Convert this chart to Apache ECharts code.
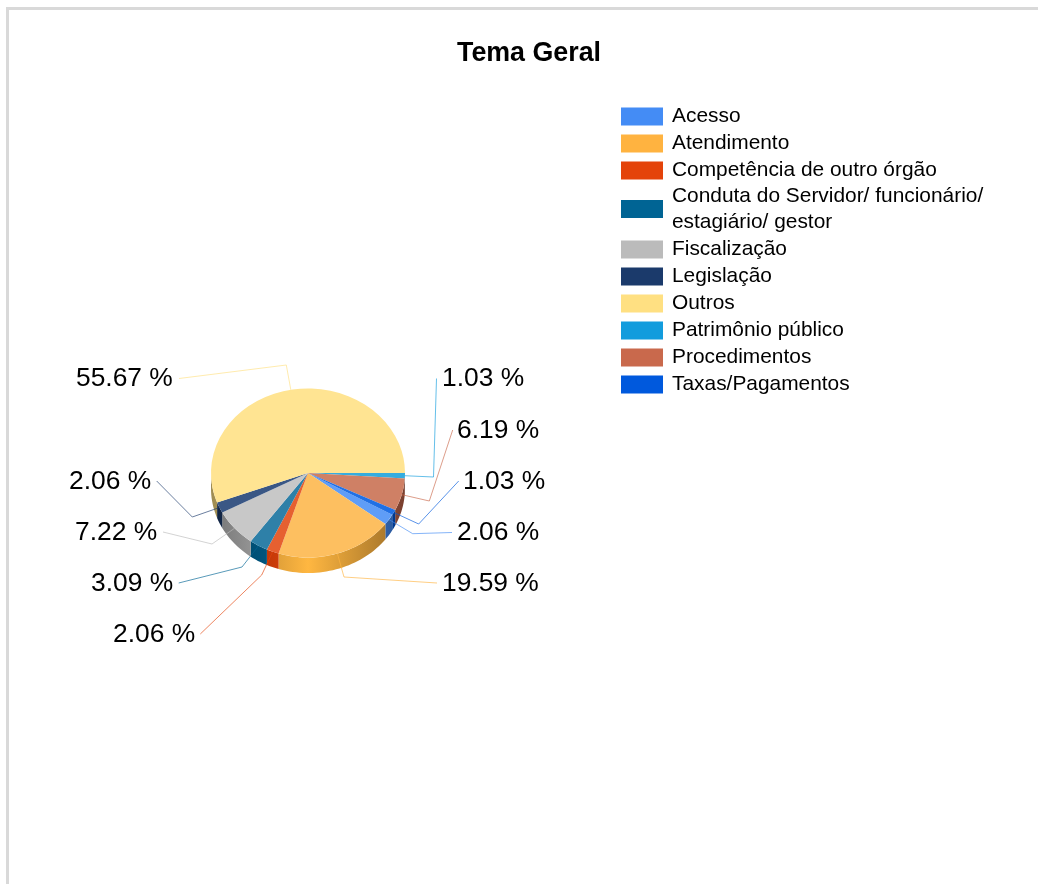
<!DOCTYPE html>
<html><head><meta charset="utf-8">
<style>html,body{margin:0;padding:0;background:#fff}#c{width:1038px;height:884px}</style>
<script src="https://cdn.jsdelivr.net/npm/echarts@6/dist/echarts.min.js"></script>
</head><body><div id="c"></div>
<script>
const categories = ["Acesso","Atendimento","Competência de outro órgão","Conduta do Servidor/ funcionário/ estagiário/ gestor","Fiscalização","Legislação","Outros","Patrimônio público","Procedimentos","Taxas/Pagamentos"];
const values = [2.06,19.59,2.06,3.09,7.22,2.06,55.67,1.03,6.19,1.03];
const legendColors = ["#448CF5","#FFB340","#E4430A","#006494","#BBBBBB","#1B3A6B","#FFE082","#129CDD","#C9694C","#0059DD"];
const faceColors = ["#5F9DF7","#FDBF60","#E66030","#2E80A8","#C8C8C8","#3A5785","#FFE492","#35ACDF","#CF8065","#2070E5"];
// annotation layout, pixels: [label x, label y, elbow x, elbow y, line end x, line end y]
const labelLayout = [
  [457,533,412.7,533.7,452,532.5],
  [442,584,344,577,437,583],
  [113,635,261.7,575,200.3,634],
  [91,584,242,567,178.7,583],
  [75,533,212,544,163,532],
  [69,482,192.3,517,156.7,481],
  [76,379,286.3,365,179,378.5],
  [442,379,433.5,477,436.5,378.5],
  [457,431,429.3,501,452.7,430],
  [463,482,418.7,524,458.7,481]
];
const firstSliceStartDeg = 29.7;
const pie = {cx:308, cy:473, rx:97, ry:84.5, depth:15.5};

function shade(hex, f){
  const n = parseInt(hex.slice(1),16);
  const c = [n>>16,(n>>8)&255,n&255].map(v=>Math.round(Math.min(255,v*f)));
  return 'rgb('+c.join(',')+')';
}
function hexA(hex,a){
  const n = parseInt(hex.slice(1),16);
  return 'rgba('+[n>>16,(n>>8)&255,n&255,a].join(',')+')';
}
const rad = d=>d*Math.PI/180;
const onEdge = d=>[pie.cx+pie.rx*Math.cos(rad(d)), pie.cy+pie.ry*Math.sin(rad(d))];

function wallPoly(a,b){
  const pts=[];
  for(let d=a;d<b;d+=2) pts.push(onEdge(d));
  pts.push(onEdge(b));
  const lower=pts.map(p=>[p[0],p[1]+pie.depth]).reverse();
  return pts.concat(lower);
}

let total = values.reduce((s,v)=>s+v,0);
let acc = 0;
const series = categories.map((name,i)=>{
  const startDeg = firstSliceStartDeg + acc/total*360;
  acc += values[i];
  const endDeg = firstSliceStartDeg + acc/total*360;
  const midDeg = (startDeg+endDeg)/2;
  return {
    name, type:'custom', coordinateSystem:'none', silent:true, clip:false,
    itemStyle:{color:legendColors[i]},
    data:[[values[i]]],
    renderItem:(params,api)=>{
      const children=[];
      const wallFill={type:'linear',x:pie.cx-pie.rx,y:0,x2:pie.cx+pie.rx,y2:0,global:true,colorStops:[
        {offset:0,color:shade(legendColors[i],0.62)},
        {offset:0.5,color:shade(legendColors[i],1.02)},
        {offset:1,color:shade(legendColors[i],0.6)}]};
      [[0,180],[360,540]].forEach(r=>{
        const a=Math.max(startDeg,r[0]), b=Math.min(endDeg,r[1]);
        if(b>a) children.push({type:'polygon',shape:{points:wallPoly(a,b)},style:{fill:wallFill}});
      });
      children.push({type:'sector',
        shape:{cx:pie.cx,cy:pie.cy,r0:0,r:pie.rx,startAngle:rad(startDeg),endAngle:rad(endDeg),clockwise:true},
        originX:pie.cx,originY:pie.cy,scaleY:pie.ry/pie.rx,
        style:{fill:faceColors[i]}});
      const L=labelLayout[i];
      children.push({type:'polyline',z2:5,shape:{points:[onEdge(midDeg),[L[2],L[3]],[L[4],L[5]]]},
        style:{fill:null,stroke:hexA(legendColors[i],0.65),lineWidth:1}});
      children.push({type:'text',z2:6,style:{text:api.value(0).toFixed(2)+' %',x:L[0],y:L[1],
        fill:'#000',font:'26.4px "Liberation Sans"',align:'left',verticalAlign:'middle'}});
      return {type:'group',children};
    }
  };
});

const legendBase = {orient:'vertical',left:621,padding:0,itemWidth:42,itemHeight:18,itemGap:6,icon:'rect',
  selectedMode:false,align:'left',itemStyle:{borderWidth:0},
  textStyle:{color:'#000',fontFamily:'Liberation Sans',fontSize:20.9,lineHeight:18,padding:[0,0,0,4]}};

const chart = echarts.init(document.getElementById('c'),null,{renderer:'canvas'});
chart.setOption({
  animation:false,
  backgroundColor:'#fff',
  title:{text:'Tema Geral',left:529,top:39,textAlign:'center',padding:0,
    textStyle:{color:'#000',fontFamily:'Liberation Sans',fontWeight:'bold',fontSize:26.8,lineHeight:30}},
  legend:[
    Object.assign({},legendBase,{top:106,data:categories.slice(0,3)}),
    Object.assign({},legendBase,{top:183,data:categories.slice(3,4),
      formatter:n=>n.replace('/ estagiário','/\nestagiário'),
      textStyle:Object.assign({},legendBase.textStyle,{lineHeight:26})}),
    Object.assign({},legendBase,{top:239,data:categories.slice(4)})
  ],
  graphic:[
    {type:'rect',silent:true,shape:{x:6,y:7,width:1032,height:3},style:{fill:'#D9D9D9'}},
    {type:'rect',silent:true,shape:{x:6,y:7,width:3,height:877},style:{fill:'#D9D9D9'}}
  ],
  series
});
</script></body></html>
